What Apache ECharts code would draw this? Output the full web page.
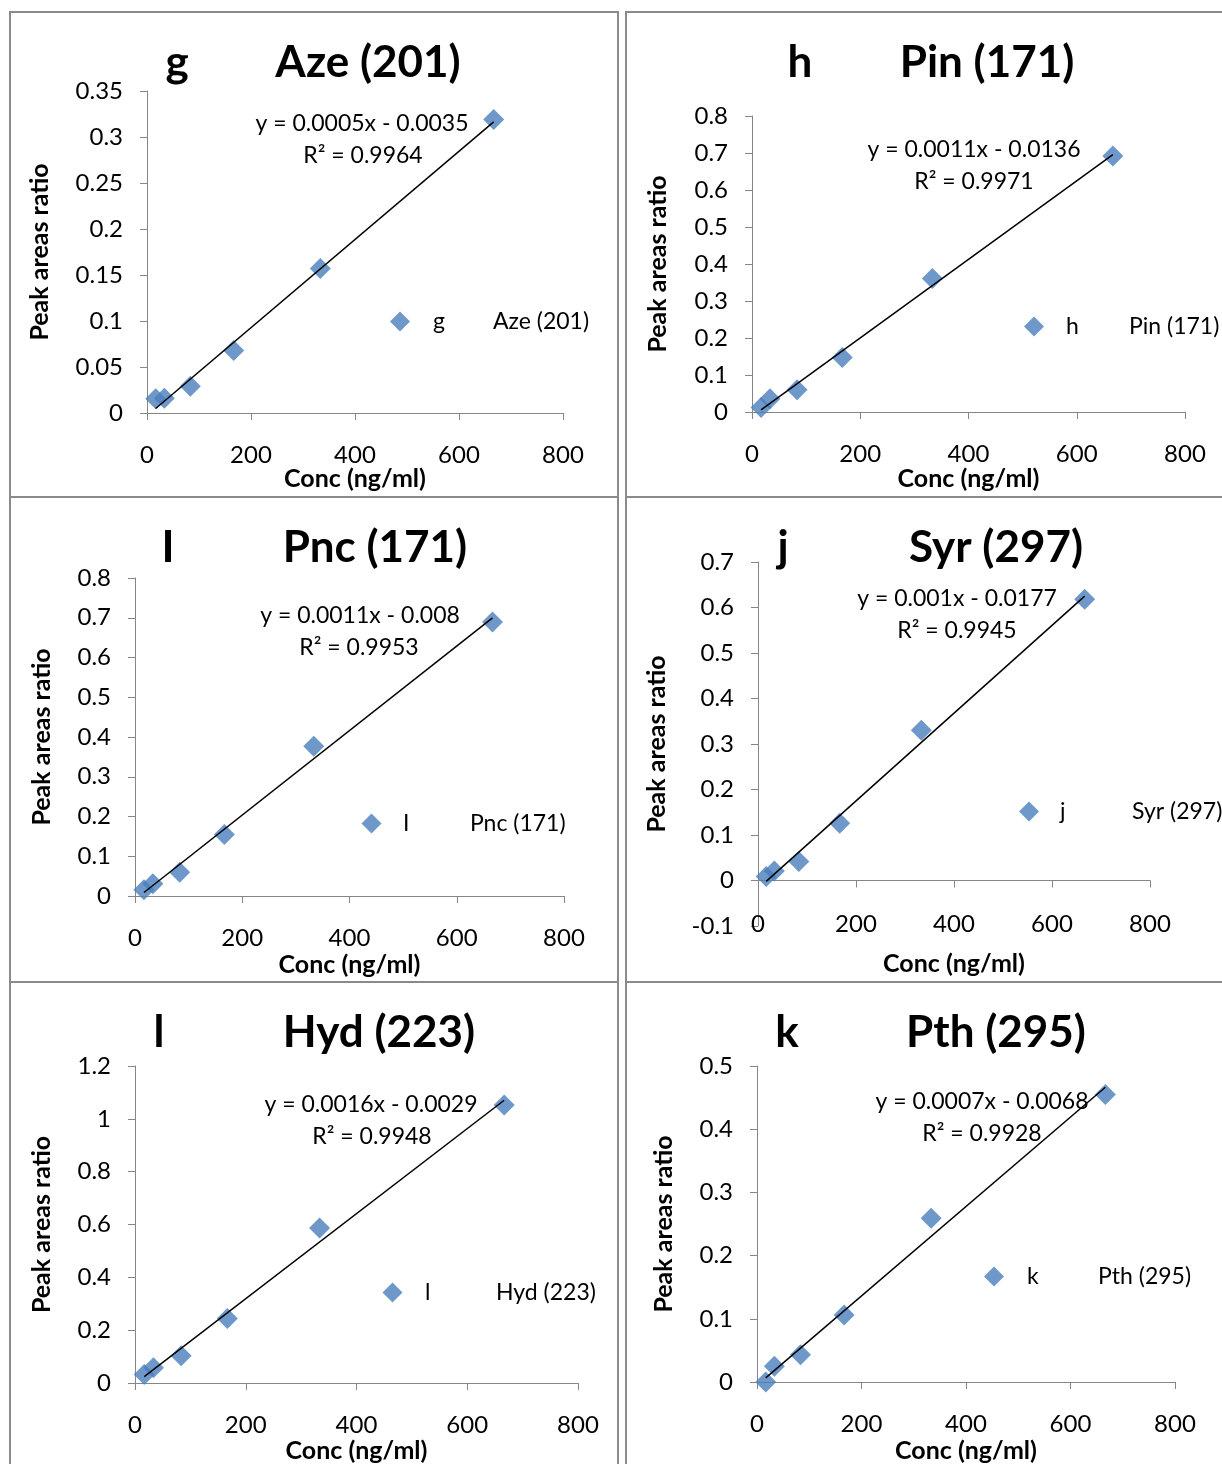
<!DOCTYPE html>
<html>
<head>
<meta charset="utf-8">
<title>Calibration curves</title>
<script src="https://cdn.jsdelivr.net/npm/echarts@6/dist/echarts.min.js"></script>
<style>
  html, body { margin: 0; padding: 0; background: #fff; }
  #chart { width: 1222px; height: 1464px; }
</style>
</head>
<body>
<div id="chart"></div>
<script>
// concentrations (ng/ml), shared by every panel
const conc = [16.7, 33.3, 83.3, 166.7, 333.3, 666.7];

// peak area ratios
const azeRatio = [0.0155, 0.016, 0.029, 0.068, 0.157, 0.319];
const pinRatio = [0.012, 0.036, 0.060, 0.147, 0.361, 0.692];
const pncRatio = [0.016, 0.031, 0.060, 0.155, 0.377, 0.689];
const syrRatio = [0.009, 0.021, 0.042, 0.126, 0.330, 0.618];
const hydRatio = [0.032, 0.058, 0.103, 0.244, 0.587, 1.052];
const pthRatio = [0.000, 0.025, 0.043, 0.106, 0.259, 0.455];

const letters = ["g", "h", "I", "j", "l", "k"];
const names = ["Aze (201)", "Pin (171)", "Pnc (171)", "Syr (297)", "Hyd (223)", "Pth (295)"];
const equations = [
  "y = 0.0005x - 0.0035",
  "y = 0.0011x - 0.0136",
  "y = 0.0011x - 0.008",
  "y = 0.001x - 0.0177",
  "y = 0.0016x - 0.0029",
  "y = 0.0007x - 0.0068",
];
const rSquared = ["R² = 0.9964", "R² = 0.9971", "R² = 0.9953", "R² = 0.9945", "R² = 0.9948", "R² = 0.9928"];

// y axis ticks
const yMin = [0, 0, 0, -0.1, 0, 0];
const yMax = [0.35, 0.8, 0.8, 0.7, 1.2, 0.5];
const yStep = [0.05, 0.1, 0.1, 0.1, 0.2, 0.1];
// x axis ticks
const xMin = 0, xMax = 800, xStep = 200;

const ratios = [azeRatio, pinRatio, pncRatio, syrRatio, hydRatio, pthRatio];

// page layout (pixels); legend = [icon centre x, centre y, letter start x, name start x]
const panels = [
  { box: [10, 12, 608, 485], grid: [147, 91, 416, 322], letterX: 177, nameX: 368, titleY: 63, eq: [362, 124], r2: [363, 156], legend: [400, 323, 433, 493], yGap: 95, xGap: 53 },
  { box: [626, 12, 620, 485], grid: [752, 116, 433, 296], letterX: 800, nameX: 987, titleY: 63, eq: [974, 150], r2: [974, 182], legend: [1034, 328, 1066, 1129], yGap: 82, xGap: 54 },
  { box: [10, 497, 608, 485], grid: [135, 578, 429, 318], letterX: 168, nameX: 375, titleY: 548, eq: [360, 616], r2: [359, 648], legend: [371.5, 825, 403, 470], yGap: 81, xGap: 56 },
  { box: [626, 497, 620, 485], grid: [758, 562, 392, 364], letterX: 783, nameX: 996, titleY: 548, eq: [957, 599], r2: [957, 631], legend: [1029, 813, 1060, 1132], yGap: 89, xGap: 25, labelsLow: true },
  { box: [10, 982, 608, 520], grid: [135, 1066, 443, 318], letterX: 159, nameX: 379, titleY: 1033, eq: [371, 1105], r2: [372, 1137], legend: [392.5, 1294, 425, 496], yGap: 81, xGap: 55 },
  { box: [626, 982, 620, 520], grid: [757, 1066, 418, 318], letterX: 787, nameX: 996, titleY: 1033, eq: [982, 1102], r2: [982, 1134], legend: [994, 1278, 1027, 1098], yGap: 81, xGap: 56 },
];

const FONT = "Lato, 'Open Sans', sans-serif";
const AXIS_GREY = "#868686";
const MARKER_BLUE = "#4A7EBB";
const ICON = 20;

// least squares fit, like the Excel trendline
function linearFit(xs, ys) {
  const n = xs.length;
  const mx = xs.reduce((a, b) => a + b, 0) / n;
  const my = ys.reduce((a, b) => a + b, 0) / n;
  let sxy = 0, sxx = 0;
  for (let k = 0; k < n; k++) {
    sxy += (xs[k] - mx) * (ys[k] - my);
    sxx += (xs[k] - mx) * (xs[k] - mx);
  }
  const slope = sxy / sxx;
  return { slope: slope, intercept: my - slope * mx };
}

const chart = echarts.init(document.getElementById("chart"));
const grid = [], xAxis = [], yAxis = [], series = [], legend = [], graphic = [];

panels.forEach(function (p, i) {
  const seriesName = letters[i] + " " + names[i];
  grid.push({ left: p.grid[0], top: p.grid[1], width: p.grid[2], height: p.grid[3], containLabel: false });

  const nameStyle = { fontSize: 25, fontWeight: "bold", color: "#000", fontFamily: FONT };
  const labelStyle = { fontSize: 24, color: "#000", fontFamily: FONT };

  const xIndex = xAxis.length;
  xAxis.push({
    gridIndex: i, type: "value", min: xMin, max: xMax, interval: xStep,
    axisLine: { onZero: true, lineStyle: { color: AXIS_GREY, width: 1 } },
    axisTick: { inside: false, length: 7, lineStyle: { color: AXIS_GREY } },
    splitLine: { show: false },
    axisLabel: Object.assign({ show: !p.labelsLow, margin: 30 }, labelStyle),
    name: p.labelsLow ? "" : "Conc (ng/ml)", nameLocation: "middle", nameGap: p.xGap,
    nameMoveOverlap: false, nameTextStyle: nameStyle,
  });
  if (p.labelsLow) {
    // labels sit at the bottom of the plot while the axis line stays at y = 0
    xAxis.push({
      gridIndex: i, type: "value", min: xMin, max: xMax, interval: xStep, position: "bottom",
      axisLine: { show: false, onZero: false }, axisTick: { show: false }, splitLine: { show: false },
      axisLabel: Object.assign({ margin: -14 }, labelStyle),
      name: "Conc (ng/ml)", nameLocation: "middle", nameGap: p.xGap,
      nameMoveOverlap: false, nameTextStyle: nameStyle,
    });
  }

  yAxis.push({
    gridIndex: i, type: "value", min: yMin[i], max: yMax[i], interval: yStep[i],
    axisLine: { show: true, onZero: true, lineStyle: { color: AXIS_GREY, width: 1 } },
    axisTick: { show: true, inside: false, length: 7, lineStyle: { color: AXIS_GREY } },
    splitLine: { show: false },
    axisLabel: Object.assign({ margin: 24 }, labelStyle),
    name: "Peak areas ratio", nameLocation: "middle", nameRotate: 90, nameGap: p.yGap,
    nameMoveOverlap: false, nameTextStyle: nameStyle,
  });

  series.push({
    type: "scatter", name: seriesName, xAxisIndex: xIndex, yAxisIndex: i,
    data: conc.map(function (x, k) { return [x, ratios[i][k]]; }),
    symbol: "diamond", symbolSize: 21,
    itemStyle: { color: MARKER_BLUE }, z: 2,
  });

  const fit = linearFit(conc, ratios[i]);
  const x0 = Math.min.apply(null, conc), x1 = Math.max.apply(null, conc);
  series.push({
    type: "line", name: "trend " + i, xAxisIndex: xIndex, yAxisIndex: i,
    data: [[x0, fit.intercept + fit.slope * x0], [x1, fit.intercept + fit.slope * x1]],
    symbol: "none", lineStyle: { color: "#000", width: 1.5 }, z: 3, silent: true,
  });

  const legLeft = p.legend[0] - ICON / 2;
  const textStart = legLeft + ICON + 5;
  legend.push({
    data: [seriesName], left: legLeft, top: p.legend[1] - 13, padding: 0,
    icon: "diamond", itemWidth: ICON, itemHeight: ICON, selectedMode: false,
    itemStyle: { color: MARKER_BLUE },
    formatter: function () { return "{s| }{a|" + letters[i] + "}{b|" + names[i] + "}"; },
    textStyle: {
      fontSize: 23, fontFamily: FONT, color: "#000",
      rich: {
        s: { width: p.legend[2] - textStart, fontSize: 23, lineHeight: 26 },
        a: { width: p.legend[3] - p.legend[2], fontSize: 23, fontFamily: FONT, color: "#000", lineHeight: 26 },
        b: { fontSize: 23, fontFamily: FONT, color: "#000", lineHeight: 26 },
      },
    },
  });

  graphic.push({
    type: "rect", silent: true, z: 0,
    shape: { x: p.box[0], y: p.box[1], width: p.box[2], height: p.box[3] },
    style: { fill: "none", stroke: "#8a8a8a", lineWidth: 2 },
  });
  graphic.push({
    type: "text", x: p.letterX, y: p.titleY, silent: true,
    style: { text: letters[i], font: "bold 44px " + FONT, fill: "#000", align: "center", verticalAlign: "middle" },
  });
  graphic.push({
    type: "text", x: p.nameX, y: p.titleY, silent: true,
    style: { text: names[i], font: "bold 44px " + FONT, fill: "#000", align: "center", verticalAlign: "middle" },
  });
  graphic.push({
    type: "text", x: p.eq[0], y: p.eq[1], silent: true,
    style: { text: equations[i], font: "23px " + FONT, fill: "#000", align: "center", verticalAlign: "middle" },
  });
  graphic.push({
    type: "text", x: p.r2[0], y: p.r2[1], silent: true,
    style: { text: rSquared[i], font: "23px " + FONT, fill: "#000", align: "center", verticalAlign: "middle" },
  });
});

chart.setOption({
  animation: false,
  backgroundColor: "#fff",
  grid: grid,
  xAxis: xAxis,
  yAxis: yAxis,
  legend: legend,
  series: series,
  graphic: graphic,
});
</script>
</body>
</html>
